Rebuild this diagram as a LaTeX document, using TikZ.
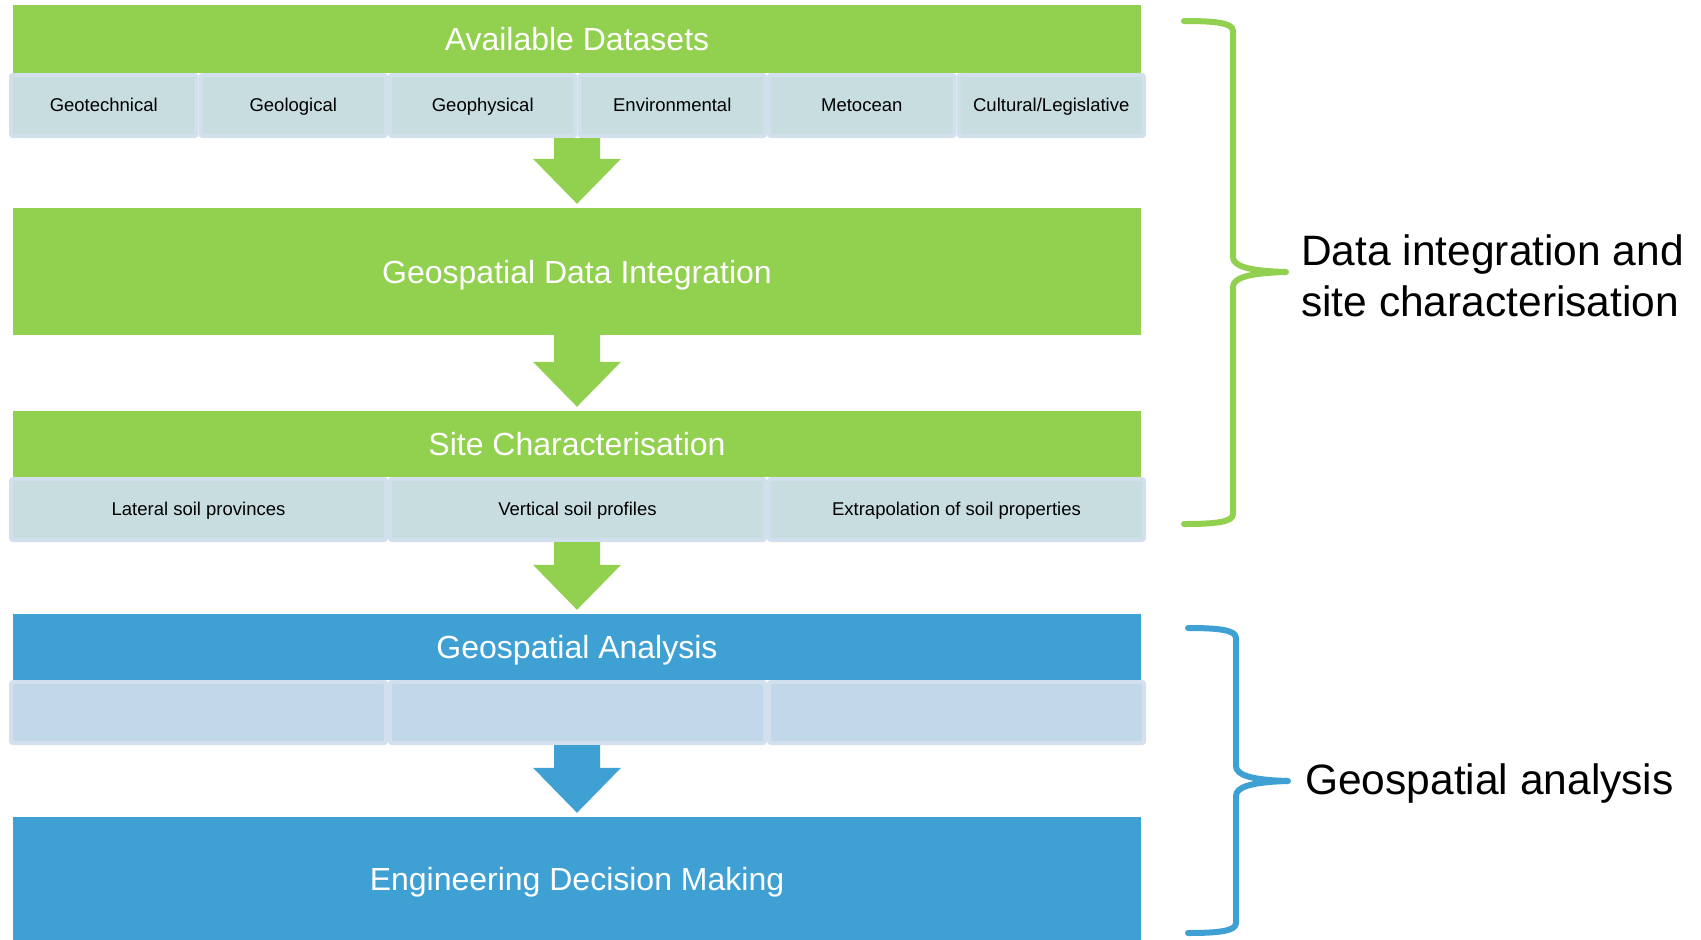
\documentclass[tikz,border=0pt]{standalone}
\usepackage{fontspec}
\setmainfont{Liberation Sans}
\usetikzlibrary{calc}

\definecolor{leaf}{HTML}{92D050}
\definecolor{sky}{HTML}{3FA0D4}
\definecolor{cellgreen}{HTML}{C8DDE0}
\definecolor{cellblue}{HTML}{C1D8EB}
\definecolor{celledge}{HTML}{D2E0EE}

\tikzset{
  bar/.style={fill=#1, draw=none, minimum width=1128pt, inner sep=0pt,
    text=white, font=\fontsize{32}{38}\selectfont,
    text height=26pt, text depth=3pt},
  cell/.style={fill=#1, draw=celledge, line width=4pt, rounded corners=2pt,
    minimum height=61pt, inner sep=0pt, text=black,
    font=\fontsize{18.5}{22}\selectfont, text height=14.5pt, text depth=2pt},
  sidebrace/.style={draw=#1, line width=6pt, line cap=round, line join=round},
  sidelabel/.style={anchor=west, inner sep=0pt, align=left,
    font=\fontsize{42.5}{51}\selectfont},
}

% block arrow from the bottom edge #2 down to the top of node #3
\newcommand\flowarrow[3]{%
  \fill[#1] ($(#2 -| #3.north)+(-23,0)$) -- ($(#3.north)+(-23,-49)$)
    -- ($(#3.north)+(-44,-49)$) -- ($(#3.north)+(0,-4)$)
    -- ($(#3.north)+(44,-49)$) -- ($(#3.north)+(23,-49)$)
    -- ($(#2 -| #3.north)+(23,0)$) -- cycle;}

\begin{document}
\begin{tikzpicture}[x=1pt, y=-1pt]
\useasboundingbox (0,0) rectangle (1701,940);

% first stage: datasets
\node[bar=leaf, minimum height=68pt] (avail) at (577,39) {Available Datasets};
\foreach \nm/\txt [count=\i from 0] in {cGeotech/Geotechnical, cGeolog/Geological,
    cGeophys/Geophysical, cEnviro/Environmental, cMetoc/Metocean,
    cCult/Cultural\slash Legislative}
  \node[cell=cellgreen, minimum width=185.5pt] (\nm) at ({9+189.5*(\i+0.5)},105.5) {\txt};

% data integration
\node[bar=leaf, minimum height=127pt] (integ) at (577,271.5) {Geospatial Data Integration};

% site characterisation
\node[bar=leaf, minimum height=66pt] (sitechar) at (577,444) {Site Characterisation};
\foreach \nm/\txt [count=\i from 0] in {cLat/Lateral soil provinces,
    cVert/Vertical soil profiles, cExtr/Extrapolation of soil properties}
  \node[cell=cellgreen, minimum width=375pt] (\nm) at ({9+379*(\i+0.5)},509.5) {\txt};

% geospatial analysis
\node[bar=sky, minimum height=66pt] (analysis) at (577,647) {Geospatial Analysis};
\foreach \nm [count=\i from 0] in {cAnaA, cAnaB, cAnaC}
  \node[cell=cellblue, minimum width=375pt] (\nm) at ({9+379*(\i+0.5)},712.5) {};

% decision making
\node[bar=sky, minimum height=123pt] (decision) at (577,878.5) {Engineering Decision Making};

% arrows between stages
\flowarrow{leaf}{cGeophys.south east}{integ}
\flowarrow{leaf}{integ.south}{sitechar}
\flowarrow{leaf}{cVert.south}{analysis}
\flowarrow{sky}{cAnaB.south}{decision}

% side braces and their labels
\coordinate (gTop) at (1184,21);
\coordinate (gTip) at (1286,272);
\coordinate (gBot) at (1184,524);
\draw[sidebrace=leaf] (gTop) .. controls (1216,21) and (1233,23) .. (1233,31)
  -- (1233,257) .. controls (1233,266) and (1248,271) .. (gTip)
  .. controls (1248,273) and (1233,278) .. (1233,287)
  -- (1233,514) .. controls (1233,522) and (1216,524) .. (gBot);
\node[sidelabel] (gLabel) at (1301,276) {Data integration and\\site characterisation};

\coordinate (bTop) at (1188,628);
\coordinate (bTip) at (1288,781);
\coordinate (bBot) at (1188,933);
\draw[sidebrace=sky] (bTop) .. controls (1219,628) and (1236,630) .. (1236,638)
  -- (1236,766) .. controls (1236,775) and (1251,780) .. (bTip)
  .. controls (1251,782) and (1236,787) .. (1236,796)
  -- (1236,923) .. controls (1236,931) and (1219,933) .. (bBot);
\node[sidelabel] (bLabel) at (1305,784) {Geospatial analysis};
\end{tikzpicture}
\end{document}
